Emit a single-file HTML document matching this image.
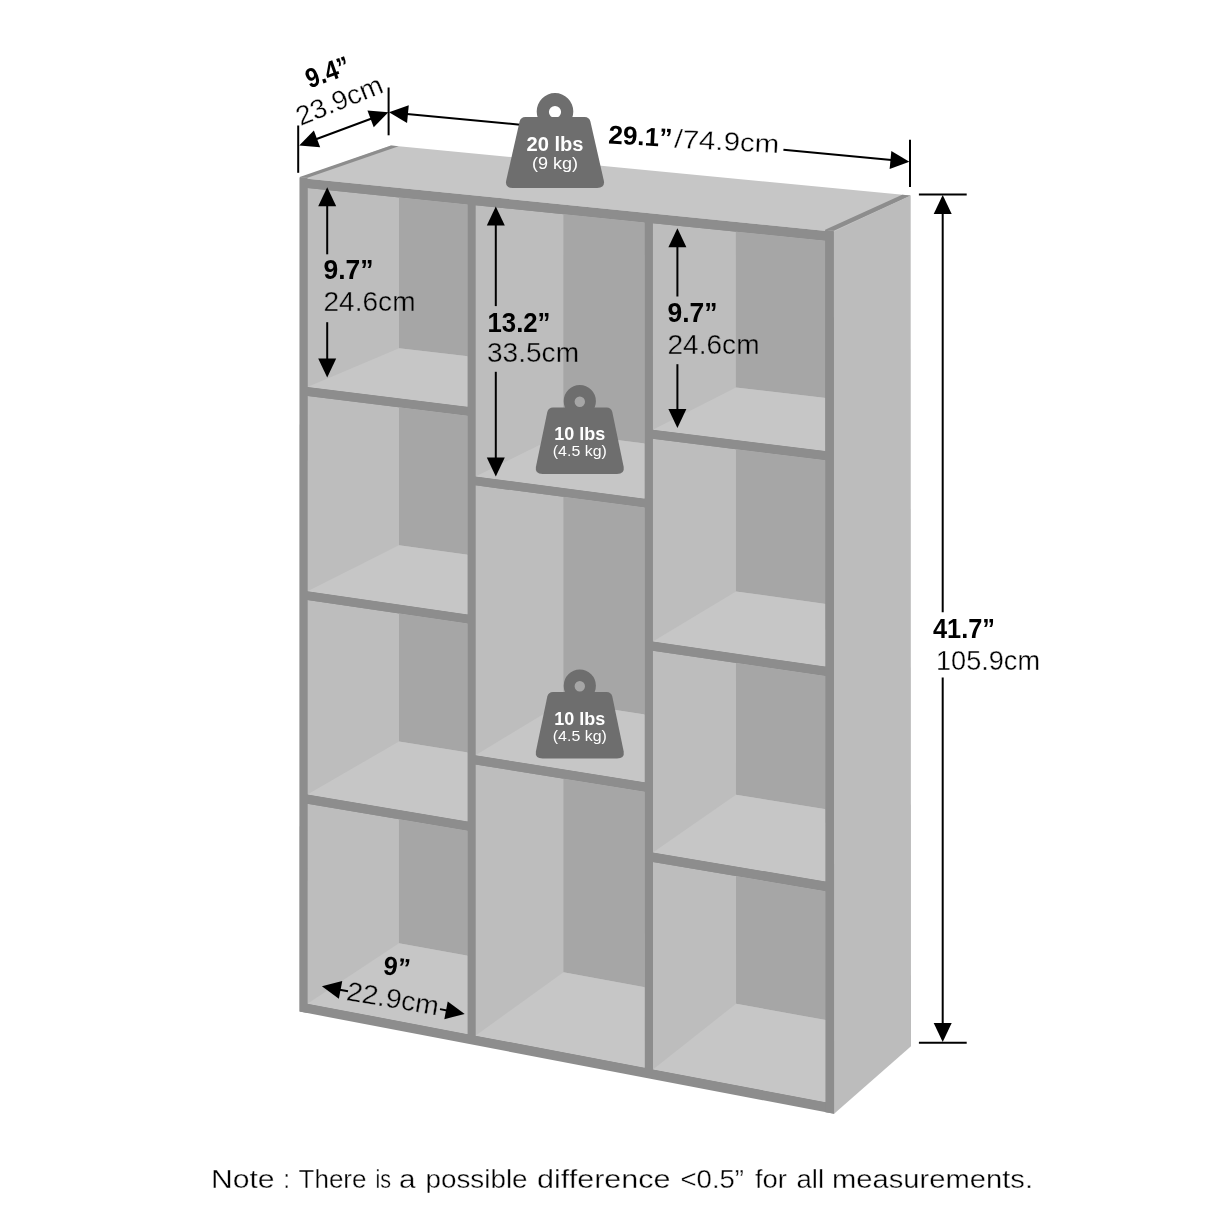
<!DOCTYPE html>
<html><head><meta charset="utf-8"><title>Bookcase dimensions</title>
<style>
html,body{margin:0;padding:0;background:#fff;}
body{width:1214px;height:1214px;overflow:hidden;}
svg{display:block;will-change:transform;font-family:"Liberation Sans", sans-serif;}
</style></head><body>
<svg width="1214" height="1214" viewBox="0 0 1214 1214">
<defs>
<clipPath id="c1"><polygon points="307.39,1003.65 307.42,803.80 467.52,830.80 467.52,1034.13"/></clipPath>
<clipPath id="c2"><polygon points="307.42,794.58 307.45,600.02 467.52,623.48 467.52,821.42"/></clipPath>
<clipPath id="c3"><polygon points="307.45,591.20 307.48,395.91 467.52,415.82 467.52,614.51"/></clipPath>
<clipPath id="c4"><polygon points="307.48,387.10 307.51,188.08 467.51,204.38 467.51,406.86"/></clipPath>
<clipPath id="c5"><polygon points="475.44,1035.64 475.44,764.39 644.64,791.70 644.69,1067.85"/></clipPath>
<clipPath id="c6"><polygon points="475.44,755.21 475.44,485.33 644.59,507.60 644.64,782.36"/></clipPath>
<clipPath id="c7"><polygon points="475.44,476.56 475.43,205.18 644.55,222.41 644.59,498.68"/></clipPath>
<clipPath id="c8"><polygon points="652.92,1069.42 652.88,862.06 825.31,891.14 825.38,1102.24"/></clipPath>
<clipPath id="c9"><polygon points="652.88,852.50 652.84,650.63 825.24,675.90 825.31,881.41"/></clipPath>
<clipPath id="c10"><polygon points="652.84,641.49 652.81,438.87 825.17,460.31 825.24,666.59"/></clipPath>
<clipPath id="c11"><polygon points="652.80,429.73 652.77,223.25 825.09,240.80 825.16,451.01"/></clipPath>
<mask id="thin" maskUnits="userSpaceOnUse" x="0" y="0" width="1214" height="1214"><rect width="1214" height="1214" fill="#000"/><text x="300.50" y="126.00" font-size="27.00" textLength="91.00" lengthAdjust="spacingAndGlyphs" transform="rotate(-22.000 300.50 126.00)" fill="#fff" stroke="#000" stroke-width="0.45">23.9cm</text><text x="674.00" y="147.50" font-size="26.00" textLength="105.00" lengthAdjust="spacingAndGlyphs" transform="rotate(3.000 674.00 147.50)" fill="#fff" stroke="#000" stroke-width="0.45">/74.9cm</text><text x="936.00" y="669.60" font-size="27.00" textLength="104.00" lengthAdjust="spacingAndGlyphs" fill="#fff" stroke="#000" stroke-width="0.45">105.9cm</text><text x="323.50" y="310.80" font-size="27.00" textLength="92.00" lengthAdjust="spacingAndGlyphs" fill="#fff" stroke="#000" stroke-width="0.45">24.6cm</text><text x="487.00" y="362.20" font-size="27.00" textLength="92.00" lengthAdjust="spacingAndGlyphs" fill="#fff" stroke="#000" stroke-width="0.45">33.5cm</text><text x="667.50" y="354.40" font-size="27.00" textLength="92.00" lengthAdjust="spacingAndGlyphs" fill="#fff" stroke="#000" stroke-width="0.45">24.6cm</text><text x="345.50" y="1000.00" font-size="27.00" textLength="93.00" lengthAdjust="spacingAndGlyphs" transform="rotate(9.500 345.50 1000.00)" fill="#fff" stroke="#000" stroke-width="0.45">22.9cm</text><text x="211.00" y="1188.00" font-size="25.50" textLength="63.59" lengthAdjust="spacingAndGlyphs" fill="#fff" stroke="#000" stroke-width="0.45">Note</text><text x="283.50" y="1188.00" font-size="25.50" textLength="6.42" lengthAdjust="spacingAndGlyphs" fill="#fff" stroke="#000" stroke-width="0.45">:</text><text x="298.50" y="1188.00" font-size="25.50" textLength="68.01" lengthAdjust="spacingAndGlyphs" fill="#fff" stroke="#000" stroke-width="0.45">There</text><text x="375.50" y="1188.00" font-size="25.50" textLength="15.57" lengthAdjust="spacingAndGlyphs" fill="#fff" stroke="#000" stroke-width="0.45">is</text><text x="399.00" y="1188.00" font-size="25.50" textLength="16.52" lengthAdjust="spacingAndGlyphs" fill="#fff" stroke="#000" stroke-width="0.45">a</text><text x="425.50" y="1188.00" font-size="25.50" textLength="102.03" lengthAdjust="spacingAndGlyphs" fill="#fff" stroke="#000" stroke-width="0.45">possible</text><text x="537.00" y="1188.00" font-size="25.50" textLength="133.51" lengthAdjust="spacingAndGlyphs" fill="#fff" stroke="#000" stroke-width="0.45">difference</text><text x="680.50" y="1188.00" font-size="25.50" textLength="63.52" lengthAdjust="spacingAndGlyphs" fill="#fff" stroke="#000" stroke-width="0.45">&lt;0.5&#8221;</text><text x="755.00" y="1188.00" font-size="25.50" textLength="32.01" lengthAdjust="spacingAndGlyphs" fill="#fff" stroke="#000" stroke-width="0.45">for</text><text x="796.50" y="1188.00" font-size="25.50" textLength="27.58" lengthAdjust="spacingAndGlyphs" fill="#fff" stroke="#000" stroke-width="0.45">all</text><text x="832.00" y="1188.00" font-size="25.50" textLength="201.06" lengthAdjust="spacingAndGlyphs" fill="#fff" stroke="#000" stroke-width="0.45">measurements.</text></mask>
</defs>
<rect x="0" y="0" width="1214" height="1214" fill="#ffffff"/>
<polygon points="833.82,230.68 910.66,195.51 911.01,1046.25 834.12,1113.86" fill="#bcbcbc"/>
<polygon points="299.70,177.88 391.02,145.43 910.66,195.51 833.82,231.74" fill="#c6c6c6"/>
<polygon points="299.70,176.88 391.02,145.43 398.64,146.17 307.51,177.67" fill="#8d8d8d"/>
<polygon points="825.09,229.80 902.18,194.69 910.66,195.51 833.82,230.68" fill="#8d8d8d"/>
<polygon points="299.57,1011.58 299.70,177.88 833.82,231.74 834.12,1113.86" fill="#8d8d8d"/>
<polygon points="299.57,1011.58 299.70,176.88 307.51,177.67 307.39,1013.08" fill="#8d8d8d"/>
<polygon points="825.38,1112.19 825.09,229.80 833.82,230.68 834.12,1113.86" fill="#8d8d8d"/>
<g clip-path="url(#c1)">
<polygon points="307.39,1003.65 307.42,803.80 467.52,830.80 467.52,1034.13" fill="#bdbdbd"/>
<polygon points="398.96,943.15 399.02,49.45 607.68,67.39 607.80,981.15" fill="#a6a6a6"/>
<polygon points="307.39,1003.65 398.96,943.15 607.80,981.15 521.83,1044.47" fill="#c6c6c6"/>
</g>
<g clip-path="url(#c2)">
<polygon points="307.42,794.58 307.45,600.02 467.52,623.48 467.52,821.42" fill="#bdbdbd"/>
<polygon points="398.98,741.40 399.02,49.45 607.68,67.39 607.77,774.86" fill="#a6a6a6"/>
<polygon points="307.42,794.58 398.98,741.40 607.77,774.86 521.82,830.53" fill="#c6c6c6"/>
</g>
<g clip-path="url(#c3)">
<polygon points="307.45,591.20 307.48,395.91 467.52,415.82 467.52,614.51" fill="#bdbdbd"/>
<polygon points="398.99,545.13 399.02,49.45 607.68,67.39 607.75,574.19" fill="#a6a6a6"/>
<polygon points="307.45,591.20 398.99,545.13 607.75,574.19 521.81,622.41" fill="#c6c6c6"/>
</g>
<g clip-path="url(#c4)">
<polygon points="307.48,387.10 307.51,188.08 467.51,204.38 467.51,406.86" fill="#bdbdbd"/>
<polygon points="399.00,348.15 399.02,49.45 607.68,67.39 607.72,372.79" fill="#a6a6a6"/>
<polygon points="307.48,387.10 399.00,348.15 607.72,372.79 521.80,413.56" fill="#c6c6c6"/>
</g>
<g clip-path="url(#c5)">
<polygon points="475.44,1035.64 475.44,764.39 644.64,791.70 644.69,1067.85" fill="#bdbdbd"/>
<polygon points="563.46,972.36 563.37,63.24 782.57,82.08 782.85,1012.26" fill="#a6a6a6"/>
<polygon points="475.44,1035.64 563.46,972.36 782.85,1012.26 701.08,1078.58" fill="#c6c6c6"/>
</g>
<g clip-path="url(#c6)">
<polygon points="475.44,755.21 475.44,485.33 644.59,507.60 644.64,782.36" fill="#bdbdbd"/>
<polygon points="563.43,702.00 563.37,63.24 782.57,82.08 782.77,735.64" fill="#a6a6a6"/>
<polygon points="475.44,755.21 563.43,702.00 782.77,735.64 701.02,791.40" fill="#c6c6c6"/>
</g>
<g clip-path="url(#c7)">
<polygon points="475.44,476.56 475.43,205.18 644.55,222.41 644.59,498.68" fill="#bdbdbd"/>
<polygon points="563.40,433.35 563.37,63.24 782.57,82.08 782.68,460.76" fill="#a6a6a6"/>
<polygon points="475.44,476.56 563.40,433.35 782.68,460.76 700.95,506.05" fill="#c6c6c6"/>
</g>
<g clip-path="url(#c8)">
<polygon points="652.92,1069.42 652.88,862.06 825.31,891.14 825.38,1102.24" fill="#bdbdbd"/>
<polygon points="736.05,1003.75 735.82,78.06 959.93,97.32 960.36,1044.55" fill="#a6a6a6"/>
<polygon points="652.92,1069.42 736.05,1003.75 960.36,1044.55 883.93,1113.38" fill="#c6c6c6"/>
</g>
<g clip-path="url(#c9)">
<polygon points="652.88,852.50 652.84,650.63 825.24,675.90 825.31,881.41" fill="#bdbdbd"/>
<polygon points="736.00,794.77 735.82,78.06 959.93,97.32 960.27,830.70" fill="#a6a6a6"/>
<polygon points="652.88,852.50 736.00,794.77 960.27,830.70 883.85,891.22" fill="#c6c6c6"/>
</g>
<g clip-path="url(#c10)">
<polygon points="652.84,641.49 652.81,438.87 825.17,460.31 825.24,666.59" fill="#bdbdbd"/>
<polygon points="735.95,591.47 735.82,78.06 959.93,97.32 960.17,622.67" fill="#a6a6a6"/>
<polygon points="652.84,641.49 735.95,591.47 960.17,622.67 883.76,675.11" fill="#c6c6c6"/>
</g>
<g clip-path="url(#c11)">
<polygon points="652.80,429.73 652.77,223.25 825.09,240.80 825.16,451.01" fill="#bdbdbd"/>
<polygon points="735.89,387.45 735.82,78.06 959.93,97.32 960.07,413.91" fill="#a6a6a6"/>
<polygon points="652.80,429.73 735.89,387.45 960.07,413.91 883.68,458.23" fill="#c6c6c6"/>
</g>
<line x1="298.20" y1="125.50" x2="298.20" y2="172.80" stroke="#000000" stroke-width="2.00"/>
<line x1="388.60" y1="87.50" x2="388.60" y2="135.30" stroke="#000000" stroke-width="2.00"/>
<polygon points="299.20,145.50 313.87,130.44 320.15,147.31" fill="#000000"/>
<polygon points="388.40,112.30 373.73,127.36 367.45,110.49" fill="#000000"/>
<line x1="311.20" y1="141.00" x2="376.40" y2="116.80" stroke="#000000" stroke-width="2.00"/>
<text x="309.50" y="88.50" font-size="27.50" font-weight="bold" textLength="45.00" lengthAdjust="spacingAndGlyphs" transform="rotate(-19.500 309.50 88.50)" fill="#000000">9.4&#8221;</text>
<polygon points="389.00,112.30 408.77,105.14 407.06,123.06" fill="#000000"/>
<polygon points="909.40,161.80 889.63,168.96 891.34,151.04" fill="#000000"/>
<line x1="399.00" y1="113.25" x2="530.00" y2="125.71" stroke="#000000" stroke-width="2.00"/>
<line x1="783.40" y1="149.81" x2="899.40" y2="160.85" stroke="#000000" stroke-width="2.00"/>
<line x1="910.00" y1="139.70" x2="910.00" y2="187.10" stroke="#000000" stroke-width="2.00"/>
<text x="608.00" y="143.50" font-size="26.00" font-weight="bold" textLength="64.00" lengthAdjust="spacingAndGlyphs" transform="rotate(3.000 608.00 143.50)" fill="#000000">29.1&#8221;</text>
<line x1="918.90" y1="194.40" x2="966.70" y2="194.40" stroke="#000000" stroke-width="2.00"/>
<line x1="918.90" y1="1042.80" x2="966.70" y2="1042.80" stroke="#000000" stroke-width="2.00"/>
<polygon points="942.70,195.00 951.70,214.00 933.70,214.00" fill="#000000"/>
<polygon points="942.70,1042.00 933.70,1023.00 951.70,1023.00" fill="#000000"/>
<line x1="942.70" y1="205.00" x2="942.70" y2="612.30" stroke="#000000" stroke-width="2.00"/>
<line x1="942.70" y1="677.50" x2="942.70" y2="1032.00" stroke="#000000" stroke-width="2.00"/>
<text x="933.00" y="638.00" font-size="27.00" font-weight="bold" textLength="62.00" lengthAdjust="spacingAndGlyphs" fill="#000000">41.7&#8221;</text>
<polygon points="327.20,187.20 336.20,206.20 318.20,206.20" fill="#000000"/>
<polygon points="327.20,377.40 318.20,358.40 336.20,358.40" fill="#000000"/>
<line x1="327.20" y1="197.00" x2="327.20" y2="254.30" stroke="#000000" stroke-width="2.00"/>
<line x1="327.20" y1="322.20" x2="327.20" y2="367.00" stroke="#000000" stroke-width="2.00"/>
<text x="323.50" y="279.30" font-size="27.00" font-weight="bold" textLength="50.00" lengthAdjust="spacingAndGlyphs" fill="#000000">9.7&#8221;</text>
<polygon points="495.80,206.50 504.80,225.50 486.80,225.50" fill="#000000"/>
<polygon points="495.80,476.40 486.80,457.40 504.80,457.40" fill="#000000"/>
<line x1="495.80" y1="216.00" x2="495.80" y2="306.10" stroke="#000000" stroke-width="2.00"/>
<line x1="495.80" y1="371.80" x2="495.80" y2="466.00" stroke="#000000" stroke-width="2.00"/>
<text x="487.50" y="331.60" font-size="27.00" font-weight="bold" textLength="63.00" lengthAdjust="spacingAndGlyphs" fill="#000000">13.2&#8221;</text>
<polygon points="677.40,228.30 686.40,247.30 668.40,247.30" fill="#000000"/>
<polygon points="677.40,428.10 668.40,409.10 686.40,409.10" fill="#000000"/>
<line x1="677.40" y1="238.00" x2="677.40" y2="296.50" stroke="#000000" stroke-width="2.00"/>
<line x1="677.40" y1="364.20" x2="677.40" y2="418.00" stroke="#000000" stroke-width="2.00"/>
<text x="667.50" y="322.10" font-size="27.00" font-weight="bold" textLength="50.00" lengthAdjust="spacingAndGlyphs" fill="#000000">9.7&#8221;</text>
<polygon points="321.90,986.30 342.26,981.07 338.85,998.74" fill="#000000"/>
<polygon points="464.70,1013.90 444.34,1019.13 447.75,1001.46" fill="#000000"/>
<line x1="336.90" y1="989.20" x2="348.00" y2="991.34" stroke="#000000" stroke-width="2.00"/>
<line x1="440.00" y1="1009.13" x2="449.70" y2="1011.00" stroke="#000000" stroke-width="2.00"/>
<text x="382.50" y="974.00" font-size="26.00" font-weight="bold" textLength="27.00" lengthAdjust="spacingAndGlyphs" transform="rotate(7.000 382.50 974.00)" fill="#000000">9&#8221;</text>
<path fill-rule="evenodd" fill="#6e6e6e" d="M 536.70 111.40 a 18.30 18.30 0 1 0 36.60 0 a 18.30 18.30 0 1 0 -36.60 0 Z M 548.90 112.00 a 6.10 6.10 0 1 0 12.20 0 a 6.10 6.10 0 1 0 -12.20 0 Z"/>
<path fill="#6e6e6e" d="M 525.30 117.00 L 584.70 117.00 Q 589.20 117.00 590.40 121.50 L 603.90 181.00 Q 605.00 188.00 597.20 188.00 L 512.80 188.00 Q 505.00 188.00 506.10 181.00 L 519.60 121.50 Q 520.80 117.00 525.30 117.00 Z"/>
<text x="555.00" y="151.30" font-size="19.50" font-weight="bold" textLength="57.00" lengthAdjust="spacingAndGlyphs" fill="#ffffff" text-anchor="middle">20 lbs</text>
<text x="555.00" y="169.00" font-size="17.00" textLength="46.00" lengthAdjust="spacingAndGlyphs" fill="#ffffff" text-anchor="middle">(9 kg)</text>
<path fill-rule="evenodd" fill="#6e6e6e" d="M 563.70 401.20 a 16.10 16.10 0 1 0 32.20 0 a 16.10 16.10 0 1 0 -32.20 0 Z M 574.60 401.80 a 5.20 5.20 0 1 0 10.40 0 a 5.20 5.20 0 1 0 -10.40 0 Z"/>
<path fill="#6e6e6e" d="M 553.00 407.50 L 606.60 407.50 Q 611.10 407.50 612.30 412.00 L 623.70 466.90 Q 624.80 473.90 617.00 473.90 L 542.60 473.90 Q 534.80 473.90 535.90 466.90 L 547.30 412.00 Q 548.50 407.50 553.00 407.50 Z"/>
<text x="579.80" y="440.10" font-size="18.00" font-weight="bold" textLength="51.00" lengthAdjust="spacingAndGlyphs" fill="#ffffff" text-anchor="middle">10 lbs</text>
<text x="579.80" y="456.00" font-size="15.00" textLength="54.00" lengthAdjust="spacingAndGlyphs" fill="#ffffff" text-anchor="middle">(4.5 kg)</text>
<path fill-rule="evenodd" fill="#6e6e6e" d="M 563.70 685.70 a 16.10 16.10 0 1 0 32.20 0 a 16.10 16.10 0 1 0 -32.20 0 Z M 574.60 686.30 a 5.20 5.20 0 1 0 10.40 0 a 5.20 5.20 0 1 0 -10.40 0 Z"/>
<path fill="#6e6e6e" d="M 553.00 692.00 L 606.60 692.00 Q 611.10 692.00 612.30 696.50 L 623.70 751.40 Q 624.80 758.40 617.00 758.40 L 542.60 758.40 Q 534.80 758.40 535.90 751.40 L 547.30 696.50 Q 548.50 692.00 553.00 692.00 Z"/>
<text x="579.80" y="724.60" font-size="18.00" font-weight="bold" textLength="51.00" lengthAdjust="spacingAndGlyphs" fill="#ffffff" text-anchor="middle">10 lbs</text>
<text x="579.80" y="740.50" font-size="15.00" textLength="54.00" lengthAdjust="spacingAndGlyphs" fill="#ffffff" text-anchor="middle">(4.5 kg)</text>
<rect x="0" y="0" width="1214" height="1214" fill="#000000" mask="url(#thin)"/>
</svg>
</body></html>
